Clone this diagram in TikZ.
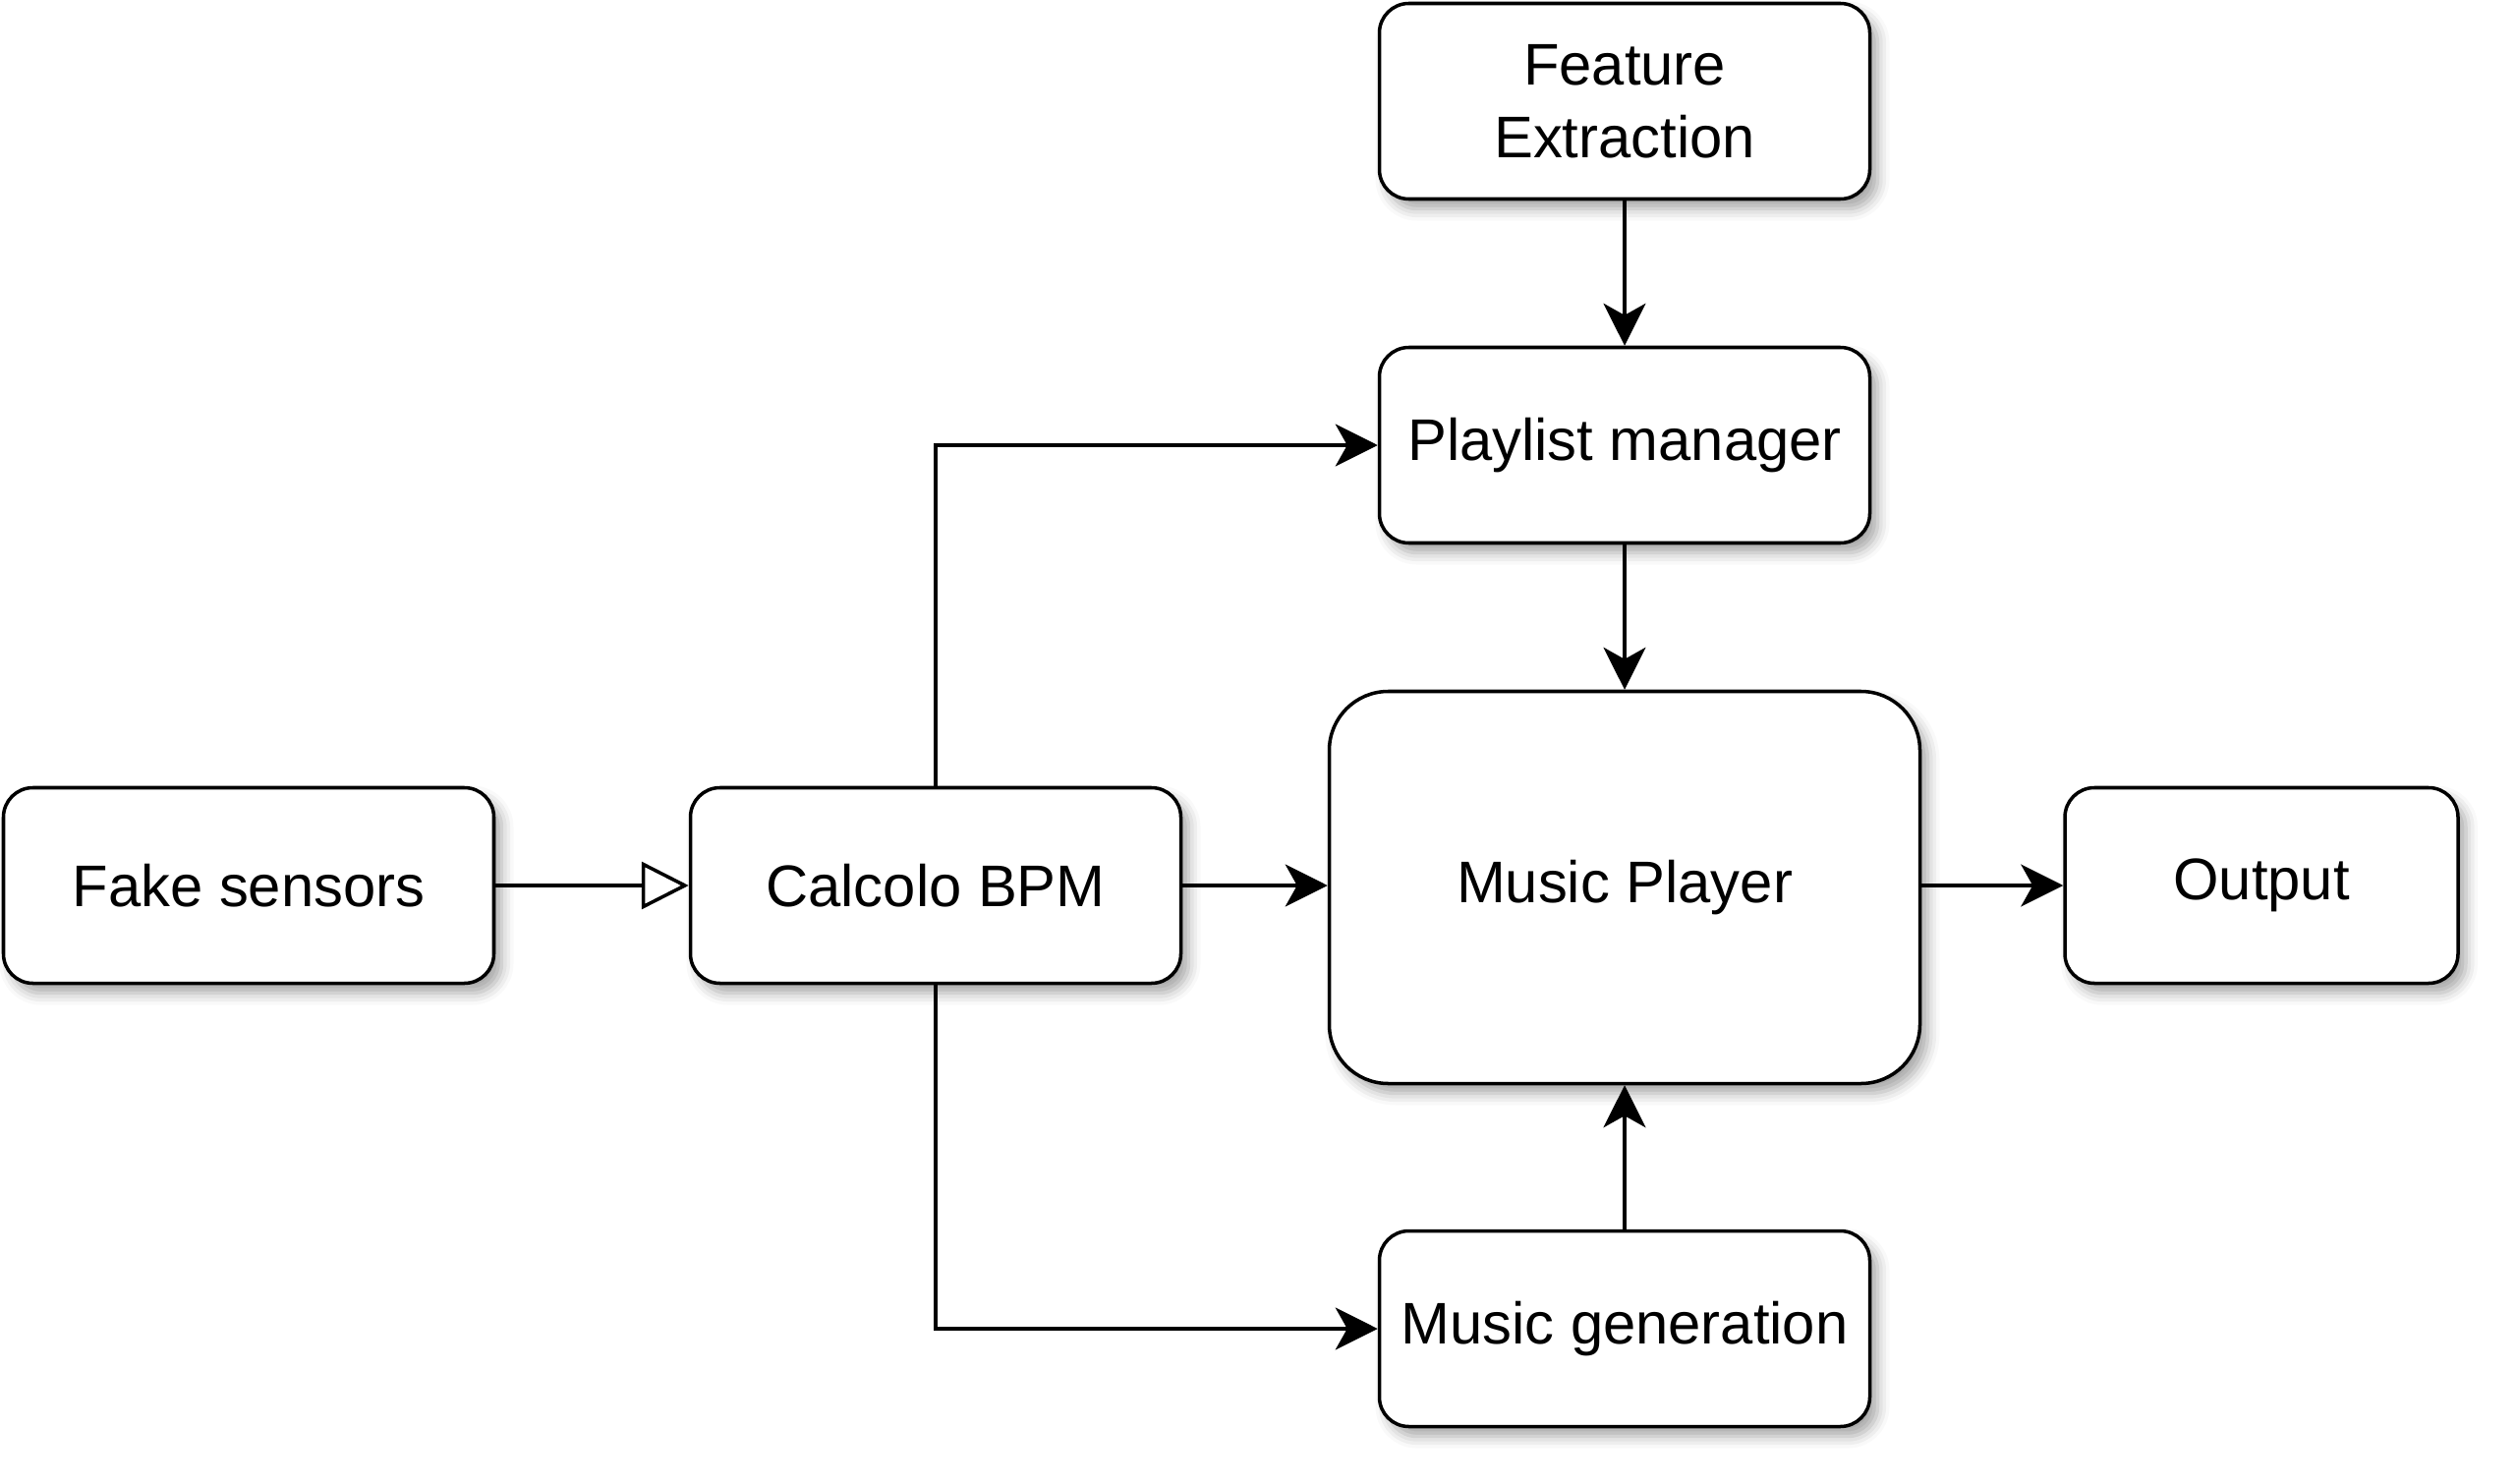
\documentclass[tikz,border=0pt]{standalone}
\usepackage{fontspec}
\setmainfont{Liberation Sans}
\usetikzlibrary{arrows.meta,shadows.blur}
\tikzset{
  box/.style={draw, line width=1pt, rounded corners=0.3cm, fill=white,
    minimum width=4.99cm, minimum height=1.99cm, align=center,
    font=\fontsize{17}{21}\selectfont,
    blur shadow={shadow xshift=0.08cm, shadow yshift=-0.1cm, shadow opacity=35, shadow blur radius=0.12cm}},
  arr/.style={line width=1pt, -{Stealth[length=0.43cm, width=0.43cm, inset=0.12cm]}},
  openarr/.style={line width=1pt, -{Triangle[open, fill=white, length=0.48cm, width=0.48cm]}}
}
\begin{document}
\begin{tikzpicture}
    \useasboundingbox (0,0) rectangle (25.6,-15.1);
    \node[box] (feat) at (16.53,-1.03) {Feature\\Extraction};
    \node[box] (play) at (16.53,-4.53) {Playlist manager};
    \node[box, minimum width=6.01cm, minimum height=3.99cm, rounded corners=0.6cm] (player) at (16.53,-9.03) {Music Player};
    \node[box] (gen) at (16.53,-13.52) {Music generation};
    \node[box] (fake) at (2.53,-9.01) {Fake sensors};
    \node[box] (bpm) at (9.52,-9.01) {Calcolo BPM};
    \node[box, minimum width=4cm] (out) at (23.01,-9.01) {Output};

    \draw[openarr] (fake) -- (bpm);
    \draw[arr] (bpm) -- (bpm -| player.west);
    \draw[arr] (bpm.north) |- (play.west);
    \draw[arr] (bpm.south) |- (gen.west);
    \draw[arr] (feat) -- (play);
    \draw[arr] (play) -- (player);
    \draw[arr] (gen) -- (player);
    \draw[arr] (player.east |- out) -- (out);
\end{tikzpicture}
\end{document}
